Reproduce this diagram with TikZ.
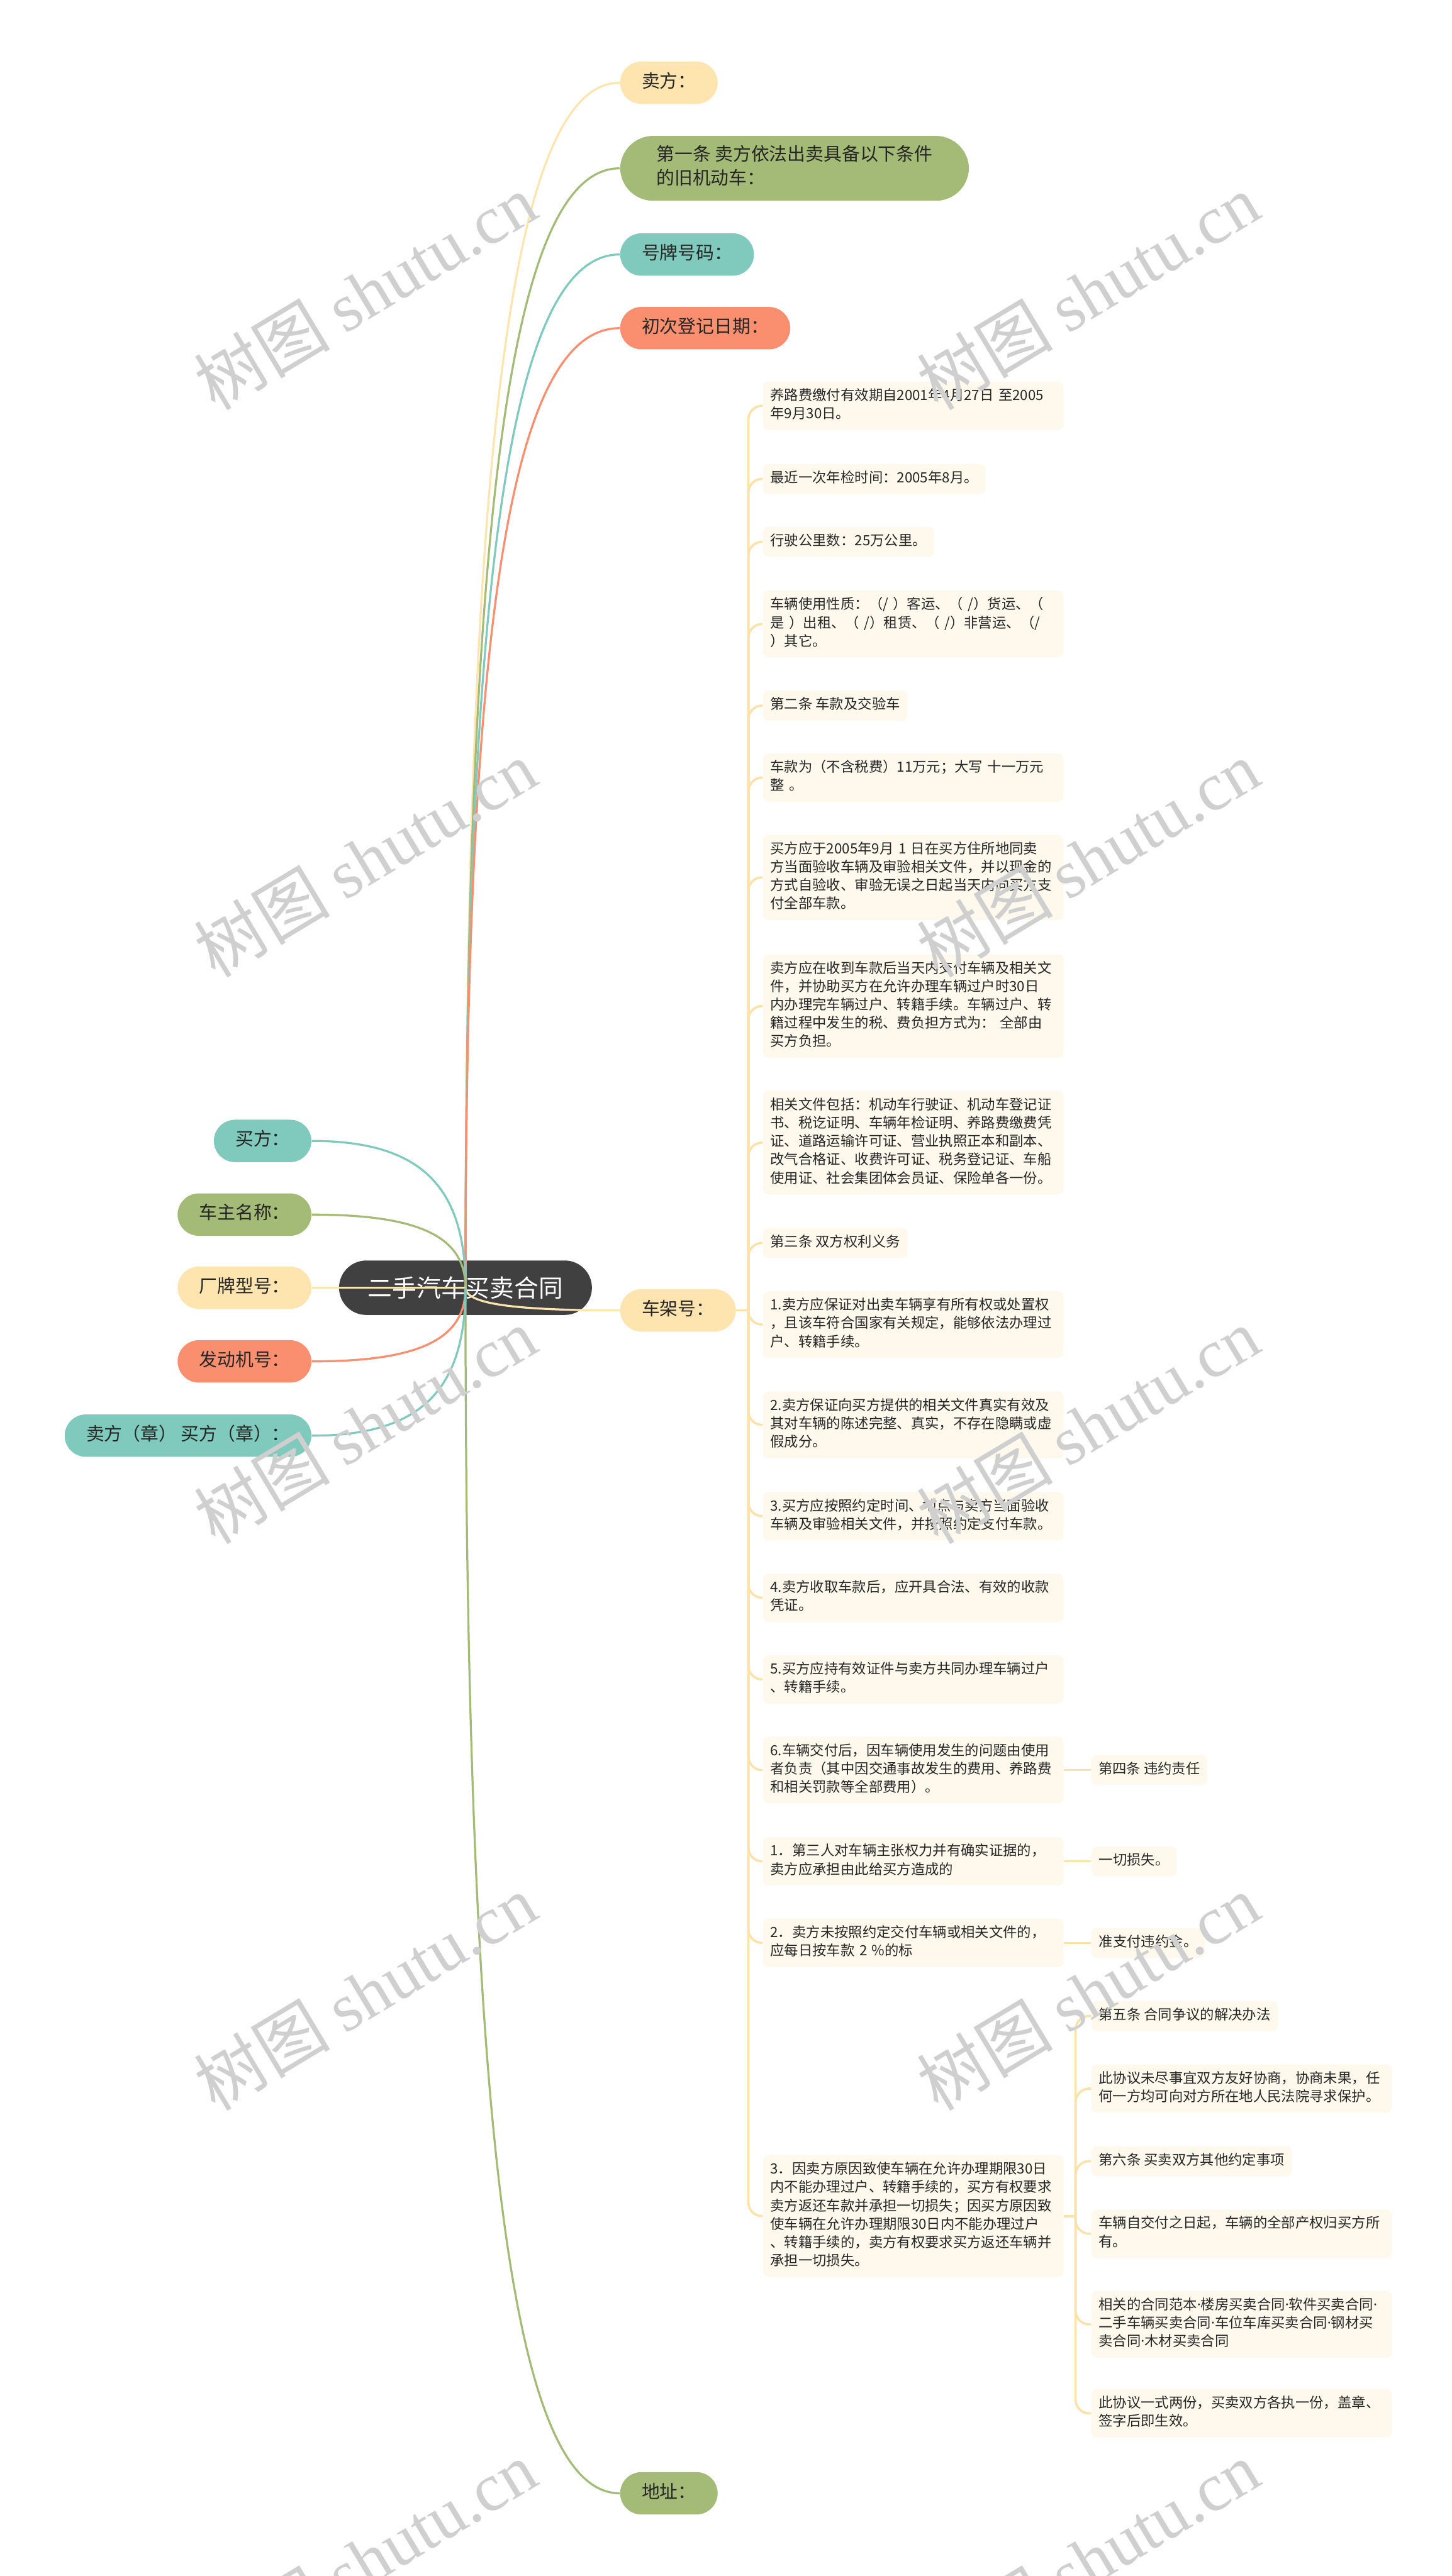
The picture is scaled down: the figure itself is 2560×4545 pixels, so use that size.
\documentclass[tikz,border=0pt]{standalone}
\usepackage{fontspec}
\setmainfont{Noto Sans CJK SC}
\newfontfamily\wmfont{Liberation Serif}
\newfontfamily\latinfont{Noto Sans}
\newcommand{\mdot}{{\latinfont ·}}
\usetikzlibrary{calc,positioning}
\definecolor{cYel}{HTML}{FEE5AF}
\definecolor{cGrn}{HTML}{A4BB78}
\definecolor{cTeal}{HTML}{80C9BD}
\definecolor{cOrg}{HTML}{F98F6F}
\definecolor{cRoot}{HTML}{404040}
\definecolor{cLeaf}{HTML}{FEF9EC}
\definecolor{cTwig}{HTML}{FBE2A9}
\definecolor{cInk}{HTML}{262626}

\begin{document}
\begin{tikzpicture}[x=0.25pt,y=-0.25pt,
  topic/.style={rounded corners=9.4pt,inner xsep=9.5pt,inner ysep=4.1pt,text=cInk,font=\fontsize{8}{10.5}\selectfont,execute at begin node=\strut},
  leaf/.style={fill=cLeaf,rounded corners=2.5pt,inner xsep=3.25pt,inner ysep=2.6pt,text=cInk,align=left,anchor=west,font=\fontsize{6.2}{8.1}\selectfont,execute at begin node=\strut,execute at end node=\strut},
  wide/.style={leaf,text width=126pt},
  link/.style={line width=0.9pt},
  twig/.style={draw=cTwig,line width=1pt,rounded corners=6pt},
  wmark/.style={rotate=31,text=black!19,font=\fontsize{30}{30}\selectfont}]
\path[use as bounding box,fill=white] (0,0) rectangle (2560,4545);

\node[fill=cRoot,text=white,rounded corners=12pt,minimum height=24pt,inner xsep=12.75pt,font=\fontsize{10.75}{13}\selectfont] (r) at (821,2272) {二手汽车买卖合同};

\node[topic,fill=cYel,anchor=west] (s1) at (1093,146) {卖方：};
\node[topic,fill=cGrn,anchor=west,align=left,rounded corners=14.6pt,inner xsep=16pt] (s2) at (1093,297) {第一条 卖方依法出卖具备以下条件\\的旧机动车：};
\node[topic,fill=cTeal,anchor=west] (s3) at (1093,449) {号牌号码：};
\node[topic,fill=cOrg,anchor=west] (s4) at (1093,579) {初次登记日期：};
\node[topic,fill=cYel,anchor=west] (s5) at (1093,2312) {车架号：};
\node[topic,fill=cGrn,anchor=west] (s6) at (1093,4399) {地址：};

\node[topic,fill=cTeal,anchor=east] (b1) at (550,2013) {买方：};
\node[topic,fill=cGrn,anchor=east] (b2) at (550,2143) {车主名称：};
\node[topic,fill=cYel,anchor=east] (b3) at (550,2272) {厂牌型号：};
\node[topic,fill=cOrg,anchor=east] (b4) at (550,2402) {发动机号：};
\node[topic,fill=cTeal,anchor=east] (b5) at (550,2533) {卖方（章） 买方（章）：};

\foreach \t/\c in {s1/cYel,s2/cGrn,s3/cTeal,s4/cOrg,s5/cYel,s6/cGrn}
  \draw[link,draw=\c] (r.center) .. controls ($(r.center)!0.7!(r.center|-\t.west)$) and ($(\t.west)!0.7!(r.center|-\t.west)$) .. (\t.west);
\foreach \t/\c in {b1/cTeal,b2/cGrn,b3/cYel,b4/cOrg,b5/cTeal}
  \draw[link,draw=\c] (r.center) .. controls ($(r.center)!0.7!(r.center|-\t.east)$) and ($(\t.east)!0.7!(r.center|-\t.east)$) .. (\t.east);

\node[wide] (l1) at (1345,716) {养路费缴付有效期自2001年4月27日 至2005\\年9月30日。};
\node[leaf] (l2) at (1345,845) {最近一次年检时间：2005年8月。};
\node[leaf] (l3) at (1345,956) {行驶公里数：25万公里。};
\node[wide] (l4) at (1345,1101) {车辆使用性质：（/ ）客运、（ /）货运、（\\是 ）出租、（ /）租赁、（ /）非营运、（/\\）其它。};
\node[leaf] (l5) at (1345,1245) {第二条 车款及交验车};
\node[wide] (l6) at (1345,1372) {车款为（不含税费）11万元；大写 十一万元\\整 。};
\node[wide] (l7) at (1345,1548) {买方应于2005年9月 1 日在买方住所地同卖\\方当面验收车辆及审验相关文件，并以现金的\\方式自验收、审验无误之日起当天内向买方支\\付全部车款。};
\node[wide] (l8) at (1345,1775) {卖方应在收到车款后当天内交付车辆及相关文\\件，并协助买方在允许办理车辆过户时30日\\内办理完车辆过户、转籍手续。车辆过户、转\\籍过程中发生的税、费负担方式为： 全部由\\买方负担。};
\node[wide] (l9) at (1345,2016) {相关文件包括：机动车行驶证、机动车登记证\\书、税讫证明、车辆年检证明、养路费缴费凭\\证、道路运输许可证、营业执照正本和副本、\\改气合格证、收费许可证、税务登记证、车船\\使用证、社会集团体会员证、保险单各一份。};
\node[leaf] (l10) at (1345,2193) {第三条 双方权利义务};
\node[wide] (l11) at (1345,2337) {1.卖方应保证对出卖车辆享有所有权或处置权\\，且该车符合国家有关规定，能够依法办理过\\户、转籍手续。};
\node[wide] (l12) at (1345,2514) {2.卖方保证向买方提供的相关文件真实有效及\\其对车辆的陈述完整、真实，不存在隐瞒或虚\\假成分。};
\node[wide] (l13) at (1345,2675) {3.买方应按照约定时间、地点与卖方当面验收\\车辆及审验相关文件，并按照约定支付车款。};
\node[wide] (l14) at (1345,2819) {4.卖方收取车款后，应开具合法、有效的收款\\凭证。};
\node[wide] (l15) at (1345,2963) {5.买方应持有效证件与卖方共同办理车辆过户\\、转籍手续。};
\node[wide] (l16) at (1345,3123) {6.车辆交付后，因车辆使用发生的问题由使用\\者负责（其中因交通事故发生的费用、养路费\\和相关罚款等全部费用）。};
\node[wide] (l17) at (1345,3284) {1．第三人对车辆主张权力并有确实证据的，\\卖方应承担由此给买方造成的};
\node[wide] (l18) at (1345,3428) {2．卖方未按照约定交付车辆或相关文件的，\\应每日按车款 2 \%的标};
\node[wide] (l19) at (1345,3910) {3．因卖方原因致使车辆在允许办理期限30日\\内不能办理过户、转籍手续的，买方有权要求\\卖方返还车款并承担一切损失；因买方原因致\\使车辆在允许办理期限30日内不能办理过户\\、转籍手续的，卖方有权要求买方返还车辆并\\承担一切损失。};

\coordinate (cjt) at (1320,2312);
\draw[twig] (s5.east) -- (cjt);
\foreach \i in {1,...,19}
  \draw[twig] (cjt) |- (l\i.west);

\node[leaf] (t16) [right=11.75pt of l16] {第四条 违约责任};
\node[leaf] (t17) [right=12pt of l17] {一切损失。};
\node[leaf] (t18) [right=12pt of l18] {准支付违约金。};
\draw[twig] (l16.east) -- (t16.west);
\draw[twig] (l17.east) -- (t17.west);
\draw[twig] (l18.east) -- (t18.west);

\node[leaf] (u1) at (1924,3557) {第五条 合同争议的解决办法};
\node[wide] (u2) at (1924,3685) {此协议未尽事宜双方友好协商，协商未果，任\\何一方均可向对方所在地人民法院寻求保护。};
\node[leaf] (u3) at (1924,3813) {第六条 买卖双方其他约定事项};
\node[wide] (u4) at (1924,3941) {车辆自交付之日起，车辆的全部产权归买方所\\有。};
\node[wide] (u5) at (1924,4101) {相关的合同范本\mdot 楼房买卖合同\mdot 软件买卖合同\mdot\\二手车辆买卖合同\mdot 车位车库买卖合同\mdot 钢材买\\卖合同\mdot 木材买卖合同};
\node[wide] (u6) at (1924,4258) {此协议一式两份，买卖双方各执一份，盖章、\\签字后即生效。};
\coordinate (ut) at (1897,3910);
\draw[twig] (l19.east) -- (ut);
\foreach \i in {1,...,6}
  \draw[twig] (ut) |- (u\i.west);

\foreach \y in {515,1515,2515,3515,4515}
  \foreach \x in {644,1919}
    \node[wmark] at (\x,\y) {树图 {\wmfont shutu.cn}};
\end{tikzpicture}
\end{document}
